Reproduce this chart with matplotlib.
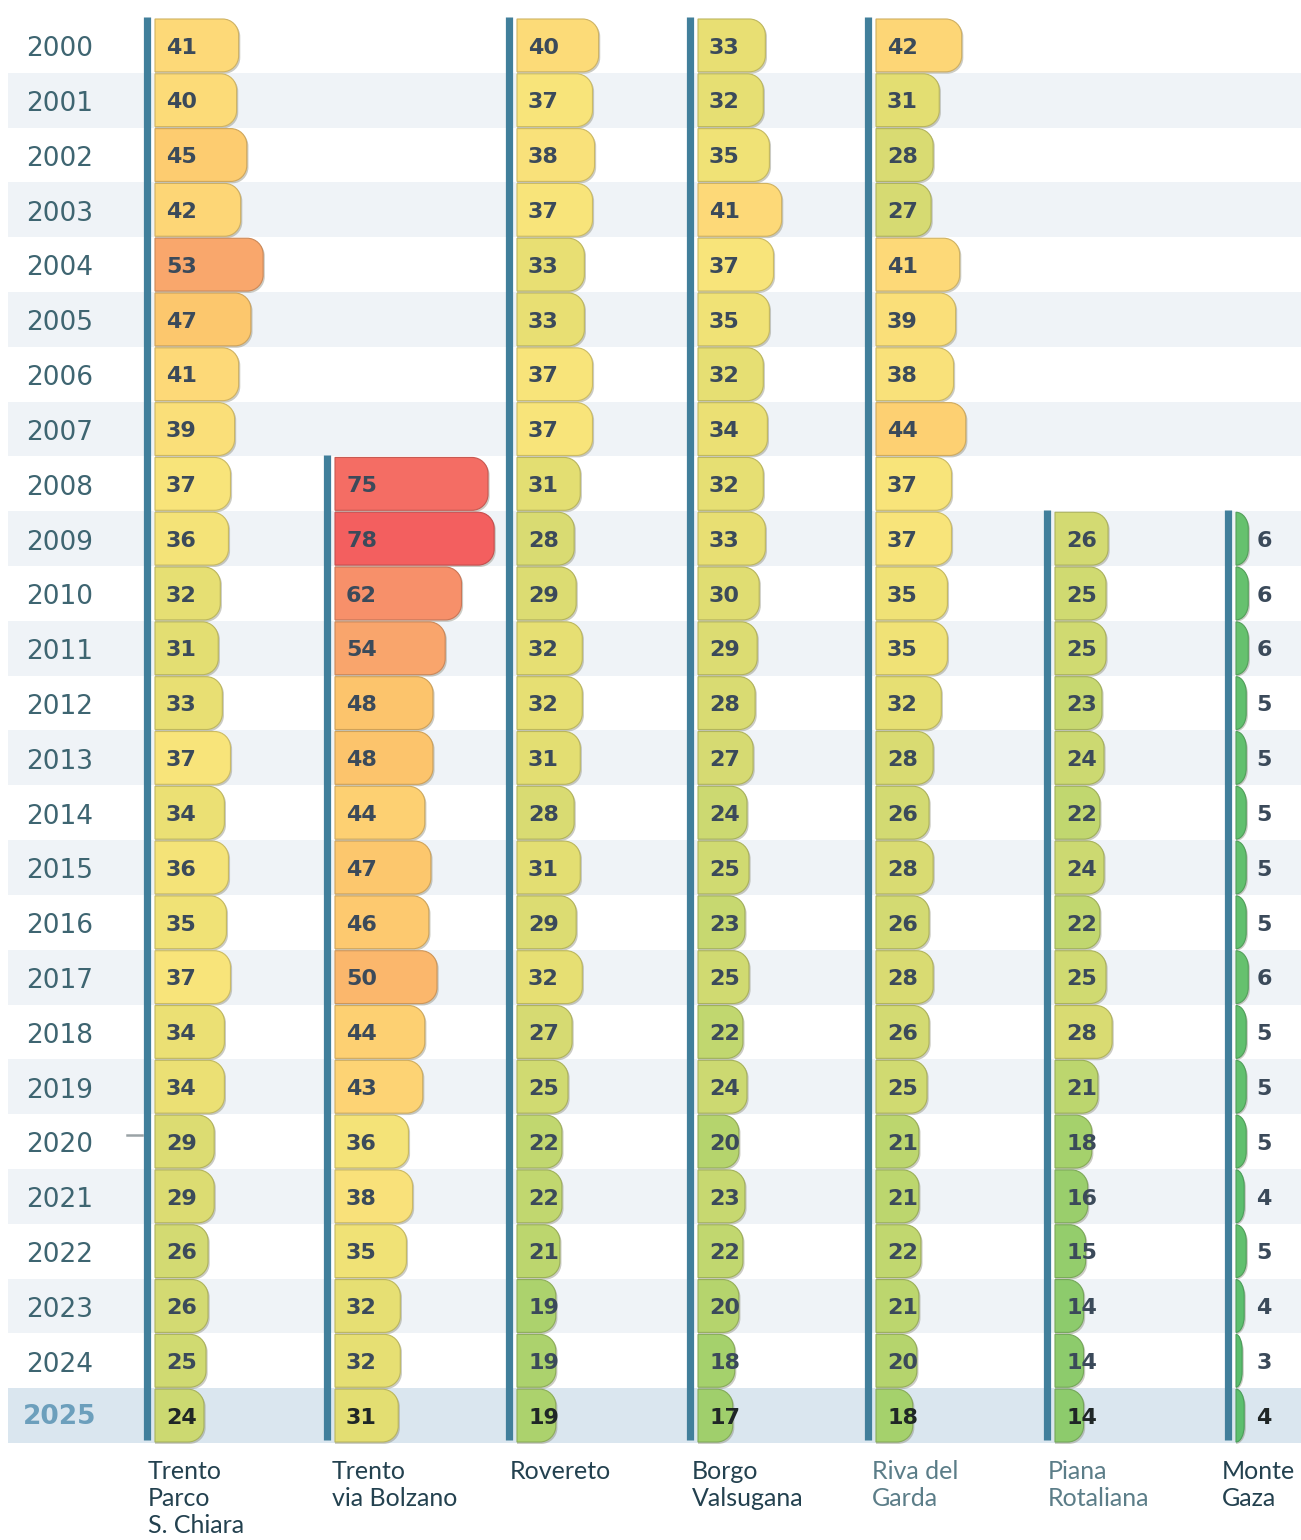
import matplotlib
matplotlib.use("Agg")
import matplotlib.pyplot as plt
import numpy as np
from matplotlib.path import Path
from matplotlib.patches import PathPatch
from matplotlib.colors import LinearSegmentedColormap

years = list(range(2000, 2026))

stations = ["Trento\nParco\nS. Chiara", "Trento\nvia Bolzano", "Rovereto",
            "Borgo\nValsugana", "Riva del\nGarda", "Piana\nRotaliana", "Monte\nGaza"]
first_year = [2000, 2008, 2000, 2000, 2000, 2009, 2009]

trento_santa_chiara = [41, 40, 45, 42, 53, 47, 41, 39, 37, 36, 32, 31, 33, 37, 34, 36, 35, 37, 34, 34, 29, 29, 26, 26, 25, 24]
trento_bolzano = [75, 78, 62, 54, 48, 48, 44, 47, 46, 50, 44, 43, 36, 38, 35, 32, 32, 31]
rovereto = [40, 37, 38, 37, 33, 33, 37, 37, 31, 28, 29, 32, 32, 31, 28, 31, 29, 32, 27, 25, 22, 22, 21, 19, 19, 19]
borgo = [33, 32, 35, 41, 37, 35, 32, 34, 32, 33, 30, 29, 28, 27, 24, 25, 23, 25, 22, 24, 20, 23, 22, 20, 18, 17]
riva = [42, 31, 28, 27, 41, 39, 38, 44, 37, 37, 35, 35, 32, 28, 26, 28, 26, 28, 26, 25, 21, 21, 22, 21, 20, 18]
piana = [26, 25, 25, 23, 24, 22, 24, 22, 25, 28, 21, 18, 16, 15, 14, 14, 14]
monte_gaza = [6, 6, 6, 5, 5, 5, 5, 5, 6, 5, 5, 5, 4, 5, 4, 3, 4]

series = [trento_santa_chiara, trento_bolzano, rovereto, borgo, riva, piana, monte_gaza]

# figure layout in pixels
W, H = 1301, 1540
TOP, BOT = 18, 1443
PX_PER_UNIT = 2.04
ROW_PX = (BOT - TOP) / len(years)
bar_start = [155, 335, 517, 698, 876, 1055, 1236]
label_x = [148, 332, 510, 692, 872, 1048, 1222]
label_col = ["#23414f", "#23414f", "#23414f", "#23414f", "#5b7d88", "#5b7d88", "#23414f"]

anchors = [(0, "#55bd6c"), (4, "#5cbf6e"), (14, "#8ecb6c"), (18, "#a6d16c"), (21, "#bcd66e"),
           (24, "#cdd971"), (28, "#d9db72"), (31, "#e3de72"), (34, "#ebe074"), (37, "#f8e47a"),
           (41, "#fdd978"), (45, "#fdcc70"), (48, "#fcc46c"), (53, "#f9a76c"), (62, "#f7906a"),
           (75, "#f46e64"), (78, "#f35f5f"), (80, "#f25a5c")]
cmap = LinearSegmentedColormap.from_list("aqi", [(v / 80, c) for v, c in anchors])

fig = plt.figure(figsize=(W / 100, H / 100), dpi=100)
fig.patch.set_facecolor("white")

ax_bot = 1 - BOT / H
ax_h = (BOT - TOP) / H

main = fig.add_axes([8 / W, ax_bot, (W - 8) / W, ax_h])
main.set_xlim(0, W - 8)
main.set_ylim(len(years) - 0.5, -0.5)
main.axis("off")

for i, yr in enumerate(years):
    if yr == 2025:
        main.axhspan(i - 0.5, i + 0.5, color="#dae6ef", lw=0)
    elif i % 2 == 1:
        main.axhspan(i - 0.5, i + 0.5, color="#eff3f7", lw=0)
    if yr == 2025:
        main.text(60 - 8, i + 0.02, str(yr), ha="center", va="center", fontsize=19,
                  fontweight="bold", color="#6c9fbc", family="DejaVu Sans")
    else:
        main.text(60 - 8, i + 0.07, str(yr), ha="center", va="center", fontsize=19,
                  color="#3e6571", family="DejaVu Sans")

# little dash left of the 2020 row
main.plot([127 - 8, 142 - 8], [20 - 0.12, 20 - 0.12], color="#9aa3a6", lw=1.8)


def right_rounded(x0, x1, y0, y1, rx, ry):
    rx = min(rx, x1 - x0)
    k = 0.5523
    verts = [(x0, y0), (x1 - rx, y0),
             (x1 - rx + k * rx, y0), (x1, y0 + ry - k * ry), (x1, y0 + ry),
             (x1, y1 - ry),
             (x1, y1 - ry + k * ry), (x1 - rx + k * rx, y1), (x1 - rx, y1),
             (x0, y1), (x0, y0)]
    codes = [Path.MOVETO, Path.LINETO,
             Path.CURVE4, Path.CURVE4, Path.CURVE4,
             Path.LINETO,
             Path.CURVE4, Path.CURVE4, Path.CURVE4,
             Path.LINETO, Path.CLOSEPOLY]
    return Path(verts, codes)


rx = 16 / PX_PER_UNIT
ry = 16 / ROW_PX
gap = 1.0 / ROW_PX

for j, vals in enumerate(series):
    width_px = 190 if j < 6 else 62
    ax = fig.add_axes([bar_start[j] / W, ax_bot, width_px / W, ax_h])
    ax.set_xlim(0, width_px / PX_PER_UNIT)
    ax.set_ylim(len(years) - 0.5, -0.5)
    ax.axis("off")
    ax.patch.set_alpha(0)

    r0 = years.index(first_year[j])
    ax.plot([-3.7, -3.7], [r0 - 0.52, len(years) - 0.55], color="#417f9b", lw=5.2,
            solid_capstyle="butt", clip_on=False)

    for i, v in enumerate(vals):
        row = r0 + i
        y0, y1 = row - 0.5 + gap, row + 0.5 - gap
        col = np.array(cmap(v / 80)[:3])
        shadow = right_rounded(0, v + 0.8, y0 + 0.03, y1 + 0.035, rx, ry)
        ax.add_patch(PathPatch(shadow, facecolor="#8c8c7c", edgecolor="none",
                               alpha=0.45, clip_on=False))
        bar = right_rounded(0, v, y0, y1, rx, ry)
        ax.add_patch(PathPatch(bar, facecolor=col, edgecolor=col * 0.82, lw=0.8,
                               clip_on=False))
        tx = 5.4 if v >= 10 else 10
        tc = "#1f2626" if years[row] == 2025 else "#3b4a5a"
        ax.text(tx, row + 0.04, str(v), ha="left", va="center", fontsize=16,
                fontweight="bold", color=tc, family="DejaVu Sans", clip_on=False)

    fig.text(label_x[j] / W, 1 - 1460 / H, stations[j], ha="left", va="top",
             fontsize=18, color=label_col[j], family="Lato", linespacing=1.2)

fig.savefig("out.png", dpi=100, facecolor="white")
